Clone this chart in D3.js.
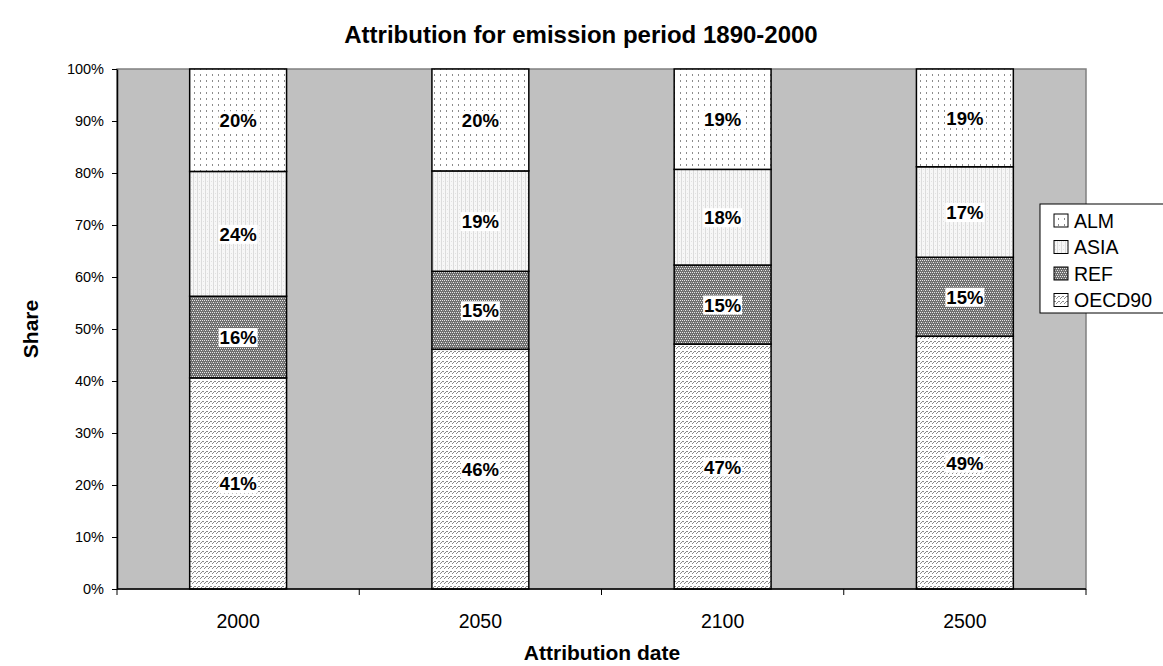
<!DOCTYPE html>
<html><head><meta charset="utf-8">
<script src="https://cdn.jsdelivr.net/npm/d3@7"></script>
<style>body{margin:0;background:#fff}svg{display:block;font-family:"Liberation Sans",Arial,sans-serif}</style>
</head><body><svg id="c" width="1163" height="666"></svg>
<script>
const categories = ["2000", "2050", "2100", "2500"];
const seriesNames = ["OECD90", "REF", "ASIA", "ALM"];
const OECD90 = [0.406, 0.461, 0.471, 0.486];
const REF = [0.157, 0.150, 0.152, 0.152];
const ASIA = [0.240, 0.193, 0.184, 0.174];
const ALM = [0.197, 0.196, 0.193, 0.188];
const yTicks = [0, 0.1, 0.2, 0.3, 0.4, 0.5, 0.6, 0.7, 0.8, 0.9, 1.0];
const legendOrder = ["ALM", "ASIA", "REF", "OECD90"];

const svg = d3.select("#c");
const m = {l: 117, r: 1086, t: 69, b: 589};
const x = d3.scaleBand().domain(categories).range([m.l, m.r]).paddingInner(0.6).paddingOuter(0.3);
const xb = d3.scaleBand().domain(categories).range([m.l, m.r]);
const y = d3.scaleLinear().domain([0, 1]).range([m.b, m.t]);

// patterns
const defs = svg.append("defs");
function pat(id, w, h, draw) {
  const p = defs.append("pattern").attr("id", id).attr("patternUnits", "userSpaceOnUse").attr("width", w).attr("height", h);
  draw(p);
}
pat("p-ALM", 6, 6, p => {
  p.append("rect").attr("width", 6).attr("height", 6).attr("fill", "#fff");
  p.append("rect").attr("x", 2).attr("y", 2).attr("width", 1).attr("height", 2).attr("fill", "#8c8c8c");
});
pat("p-ASIA", 4, 4, p => {
  p.append("rect").attr("width", 4).attr("height", 4).attr("fill", "#f7f7f7");
  p.append("rect").attr("x", 1).attr("y", 0).attr("width", 1).attr("height", 4).attr("fill", "#dcdcdc");
  p.append("rect").attr("x", 3).attr("y", 1).attr("width", 1).attr("height", 1).attr("fill", "#e2e2e2");
});
pat("p-REF", 4, 4, p => {
  p.append("rect").attr("width", 4).attr("height", 4).attr("fill", "#6e6e6e");
  p.append("rect").attr("x", 0).attr("y", 0).attr("width", 1).attr("height", 1).attr("fill", "#e8e8e8");
  p.append("rect").attr("x", 2).attr("y", 0).attr("width", 1).attr("height", 1).attr("fill", "#e8e8e8");
  p.append("rect").attr("x", 1).attr("y", 2).attr("width", 1).attr("height", 1).attr("fill", "#e8e8e8");
  p.append("rect").attr("x", 3).attr("y", 2).attr("width", 1).attr("height", 1).attr("fill", "#b0b0b0");
});
pat("p-OECD90", 4, 5, p => {
  p.append("rect").attr("width", 4).attr("height", 5).attr("fill", "#fff");
  p.append("path").attr("d", "M0,4 L3,1 L4,2").attr("stroke", "#8a8a8a").attr("stroke-width", 1).attr("fill", "none");
});

// plot area
svg.append("rect").attr("x", m.l).attr("y", m.t).attr("width", m.r - m.l).attr("height", m.b - m.t)
  .attr("fill", "#c0c0c0").attr("stroke", "#808080").attr("stroke-width", 1.5);

const data = categories.map((c, i) => ({cat: c, OECD90: OECD90[i], REF: REF[i], ASIA: ASIA[i], ALM: ALM[i]}));
const stack = d3.stack().keys(seriesNames)(data);

const g = svg.append("g");
stack.forEach(s => {
  g.selectAll(null).data(s).join("rect")
    .attr("x", d => x(d.data.cat)).attr("width", x.bandwidth())
    .attr("y", d => y(d[1])).attr("height", d => y(d[0]) - y(d[1]))
    .attr("fill", `url(#p-${s.key})`).attr("stroke", "#000").attr("stroke-width", 1.5);
});
// labels
const fmt = d3.format(".0%");
stack.forEach(s => {
  s.forEach(d => {
    const cx = x(d.data.cat) + x.bandwidth() / 2;
    const cy = (y(d[0]) + y(d[1])) / 2;
    const t = fmt(d[1] - d[0]);
    const lg = g.append("g");
    const tx = lg.append("text").attr("x", cx).attr("y", cy + 7).attr("text-anchor", "middle")
      .attr("font-size", 18.5).attr("font-weight", "bold").attr("fill", "#000").text(t);
    const bb = tx.node().getBBox();
    lg.insert("rect", "text").attr("x", bb.x - 1).attr("y", bb.y + 1).attr("width", bb.width + 2).attr("height", bb.height - 2).attr("fill", "#fff");
  });
});

// axes
const ya = d3.axisLeft(y).tickValues(yTicks).tickFormat(d3.format(".0%")).tickSize(5).tickPadding(8).tickSizeOuter(0);
const yg = svg.append("g").attr("transform", `translate(${m.l},0)`).call(ya);
yg.select(".domain").attr("stroke", "#000").attr("stroke-width", 1.5);
yg.selectAll("text").attr("font-size", 14.5).attr("fill", "#000").attr("font-family", "Liberation Sans, Arial, sans-serif");
yg.selectAll("line").attr("stroke", "#000");

const xaG = svg.append("g").attr("transform", `translate(0,${m.b})`);
xaG.append("line").attr("x1", m.l).attr("x2", m.r).attr("stroke", "#000").attr("stroke-width", 1.5);
const bounds = categories.map(c => xb(c)).concat([m.r]);
xaG.selectAll(".tk").data(bounds).join("line").attr("x1", d => d).attr("x2", d => d).attr("y1", 0).attr("y2", 6).attr("stroke", "#000");
xaG.selectAll(".lb").data(categories).join("text")
  .attr("x", d => xb(d) + xb.bandwidth() / 2).attr("y", 39).attr("text-anchor", "middle")
  .attr("font-size", 19.5).attr("fill", "#000").text(d => d);

// titles
svg.append("text").attr("x", 581).attr("y", 43).attr("text-anchor", "middle").attr("font-size", 24).attr("font-weight", "bold")
  .text("Attribution for emission period 1890-2000");
svg.append("text").attr("x", 602).attr("y", 660).attr("text-anchor", "middle").attr("font-size", 21).attr("font-weight", "bold")
  .text("Attribution date");
svg.append("text").attr("transform", "translate(38,329) rotate(-90)").attr("text-anchor", "middle").attr("font-size", 21).attr("font-weight", "bold")
  .text("Share");

// legend
const lgd = svg.append("g");
lgd.append("rect").attr("x", 1040).attr("y", 204).attr("width", 140).attr("height", 109).attr("fill", "#fff").attr("stroke", "#000").attr("stroke-width", 1);
const ly = d3.scalePoint().domain(legendOrder).range([220.5, 300]);
legendOrder.forEach(k => {
  lgd.append("rect").attr("x", 1054).attr("y", ly(k) - 6.5).attr("width", 14).attr("height", 13)
    .attr("fill", `url(#p-${k})`).attr("stroke", "#000").attr("stroke-width", 1);
  lgd.append("text").attr("x", 1074).attr("y", ly(k) + 7).attr("font-size", 19.5).attr("fill", "#000").text(k);
});
</script></body></html>
